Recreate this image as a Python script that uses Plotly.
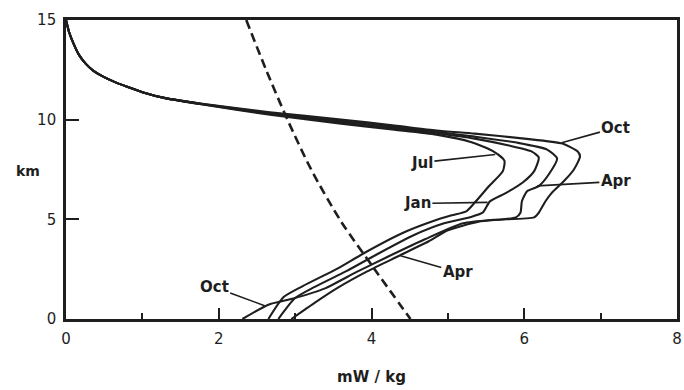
import plotly.graph_objects as go

# Shared upper part (all months converge above ~9.5 km)
top_x = [0, 0.04, 0.1, 0.17, 0.26, 0.36, 0.48, 0.62, 0.8, 1.0, 1.3, 1.81, 2.67, 3.6, 4.3, 4.85]
top_y = [15, 14.4, 13.8, 13.25, 12.8, 12.45, 12.17, 11.92, 11.65, 11.38, 11.08, 10.75, 10.25, 9.8, 9.5, 9.25]

# Month-specific lower parts (x = mW/kg, y = km)
jul_x = [5.3, 5.6, 5.74, 5.72, 5.54, 5.35, 5.24, 5.05, 4.8, 4.4, 3.9, 3.54, 3.1, 2.85, 2.65]
jul_y = [8.88, 8.4, 7.95, 7.42, 6.67, 5.83, 5.4, 5.2, 4.9, 4.3, 3.3, 2.5, 1.65, 1.1, 0]

jan_x = [5.35, 5.8, 6.1, 6.19, 6.13, 5.98, 5.75, 5.55, 5.46, 5.3, 4.95, 4.55, 4.05, 3.67, 3.25, 3.0, 2.78]
jan_y = [9.05, 8.7, 8.4, 8.1, 7.42, 6.85, 6.3, 5.9, 5.35, 5.12, 4.8, 4.2, 3.2, 2.4, 1.6, 1.05, 0]

apr_x = [5.35, 5.9, 6.3, 6.43, 6.32, 6.19, 6.04, 5.97, 5.95, 5.89, 5.4, 5.0, 4.75, 4.35, 3.95, 3.55, 3.25, 2.95]
apr_y = [9.15, 8.85, 8.5, 8.05, 7.25, 6.67, 6.42, 5.92, 5.33, 5.1, 4.88, 4.45, 3.9, 3.15, 2.4, 1.55, 0.8, 0]

oct_x = [5.35, 6.0, 6.5, 6.7, 6.73, 6.65, 6.52, 6.36, 6.28, 6.19, 6.13, 5.6, 5.2, 4.7, 4.2, 3.8, 3.4, 2.95, 2.65, 2.31]
oct_y = [9.3, 9.05, 8.8, 8.4, 8.15, 7.5, 6.92, 6.33, 5.92, 5.33, 5.1, 4.98, 4.8, 4.0, 3.1, 2.35, 1.55, 1.0, 0.72, 0]

# Dashed reference curve
dash_x = [2.36, 2.62, 2.9, 3.21, 3.6, 4.04, 4.51]
dash_y = [15, 12.5, 10.0, 7.5, 4.9, 2.5, 0]

x_ticks = [0, 2, 4, 6, 8]
y_ticks = [0, 5, 10, 15]

months = {
    "Jul": (jul_x, jul_y, 0.0),
    "Jan": (jan_x, jan_y, 0.07),
    "Apr": (apr_x, apr_y, 0.14),
    "Oct": (oct_x, oct_y, 0.21),
}

ink = "#1e1e1e"
font_family = "DejaVu Sans"

fig = go.Figure()
for name, (mx, my, off) in months.items():
    ty = [v + off * min(max((x - 1.5) / 2.0, 0.0), 1.0) for x, v in zip(top_x, top_y)]
    fig.add_trace(go.Scatter(
        x=top_x + mx, y=ty + my, mode="lines", name=name,
        line=dict(color=ink, width=2.1, shape="spline", smoothing=0.6),
        showlegend=False, hoverinfo="skip"))

fig.add_trace(go.Scatter(
    x=dash_x, y=dash_y, mode="lines",
    line=dict(color=ink, width=2.6, dash="9px,5px", shape="spline", smoothing=0.8),
    showlegend=False, hoverinfo="skip"))

lab_font = dict(family=font_family, size=15, color=ink)
labels = [
    # text, tip x, tip y, text x, text y
    ("Oct", 6.49, 8.84, 7.2, 9.6),
    ("Apr", 6.17, 6.68, 7.2, 6.9),
    ("Jul", 5.62, 8.25, 4.66, 7.85),
    ("Jan", 5.52, 5.85, 4.6, 5.8),
    ("Oct", 2.6, 0.67, 1.94, 1.6),
    ("Apr", 4.38, 3.17, 5.13, 2.35),
]
for text, tx, ty_, ax_, ay_ in labels:
    fig.add_annotation(
        x=tx, y=ty_, ax=ax_, ay=ay_, xref="x", yref="y", axref="x", ayref="y",
        text="<b>%s</b>" % text, showarrow=True, arrowhead=0, arrowwidth=1.6,
        arrowcolor=ink, font=lab_font, standoff=0, startstandoff=0)

fig.add_annotation(
    x=0, y=7.4, xref="paper", yref="y", xanchor="right", xshift=-24,
    text="<b>km</b>", showarrow=False, font=dict(family=font_family, size=14, color=ink))

fig.update_xaxes(
    range=[0, 8], tickvals=x_ticks, ticktext=[str(v) for v in x_ticks],
    ticks="inside", ticklen=11, tickwidth=2, tickcolor=ink,
    minor=dict(dtick=1, tick0=0, ticks="inside", ticklen=6, tickwidth=2, tickcolor=ink),
    showline=True, linewidth=2.6, linecolor=ink, mirror=True,
    showgrid=False, zeroline=False,
    tickfont=dict(family=font_family, size=15, color=ink),
    ticklabelstandoff=4,
    title=dict(text="<b>mW / kg</b>", font=dict(family=font_family, size=15, color=ink), standoff=25),
)
fig.update_yaxes(
    range=[0, 15], tickvals=y_ticks, ticktext=[str(v) for v in y_ticks],
    ticks="inside", ticklen=13, tickwidth=2, tickcolor=ink,
    showline=True, linewidth=2.6, linecolor=ink, mirror=True,
    showgrid=False, zeroline=False,
    tickfont=dict(family=font_family, size=15, color=ink),
    ticklabelstandoff=4,
)
fig.update_layout(
    width=684, height=390,
    margin=dict(l=66, r=2, t=20, b=71),
    paper_bgcolor="white", plot_bgcolor="white",
    showlegend=False,
)
fig.write_html("out.html")
